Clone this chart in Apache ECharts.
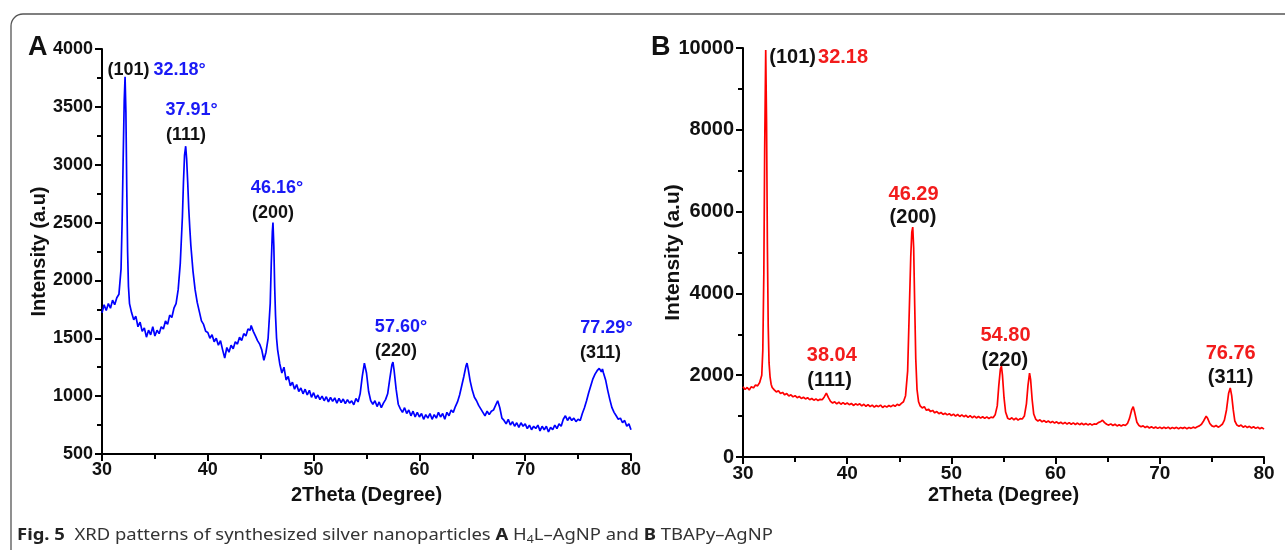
<!DOCTYPE html>
<html>
<head>
<meta charset="utf-8">
<script src="https://cdn.jsdelivr.net/npm/echarts@6/dist/echarts.min.js"></script>
<style>
  html, body { margin: 0; padding: 0; background: #fff; }
  #main { width: 1285px; height: 550px; }
</style>
</head>
<body>
<div id="main"></div>
<script>
// XRD pattern A: H4L-AgNP  [2theta, intensity]
var xrdA = [
  [30.0,1720],[30.2,1790],[30.4,1740],[30.6,1800],[30.8,1760],[31.0,1830],[31.2,1790],[31.4,1850],[31.6,1880],[31.8,2100],
  [31.9,2500],[32.0,3050],[32.1,3550],[32.18,3760],[32.26,3450],[32.34,2800],[32.42,2250],[32.5,1950],[32.6,1800],[32.8,1720],
  [33.0,1660],[33.2,1690],[33.4,1600],[33.6,1640],[33.8,1560],[34.0,1590],[34.2,1510],[34.4,1570],[34.6,1530],[34.8,1600],
  [35.0,1520],[35.2,1570],[35.4,1540],[35.6,1600],[35.8,1580],[36.0,1650],[36.2,1620],[36.4,1700],[36.6,1680],[36.8,1760],
  [37.0,1800],[37.2,1920],[37.4,2150],[37.6,2550],[37.7,2850],[37.8,3080],[37.91,3160],[38.0,3050],[38.1,2850],[38.2,2620],
  [38.3,2450],[38.4,2300],[38.6,2080],[38.8,1920],[39.0,1810],[39.2,1730],[39.4,1650],[39.6,1620],[39.8,1560],[40.0,1550],
  [40.2,1500],[40.4,1530],[40.6,1470],[40.8,1500],[41.0,1440],[41.2,1480],[41.4,1400],[41.6,1330],[41.8,1420],[42.0,1380],
  [42.2,1440],[42.4,1410],[42.6,1470],[42.8,1450],[43.0,1510],[43.2,1480],[43.4,1540],[43.6,1520],[43.8,1580],[44.0,1570],
  [44.1,1610],[44.3,1560],[44.5,1520],[44.7,1480],[44.9,1450],[45.1,1400],[45.3,1310],[45.5,1380],[45.7,1500],[45.9,1800],
  [46.0,2150],[46.1,2420],[46.16,2500],[46.24,2300],[46.32,1950],[46.4,1700],[46.5,1500],[46.6,1400],[46.8,1280],[47.0,1200],
  [47.2,1250],[47.4,1140],[47.6,1170],[47.8,1090],[48.0,1120],[48.2,1060],[48.4,1100],[48.6,1040],[48.8,1070],[49.0,1020],
  [49.2,1060],[49.4,1010],[49.6,1050],[49.8,990],[50.0,1030],[50.2,980],[50.4,1010],[50.6,970],[50.8,1000],[51.0,960],
  [51.2,995],[51.4,950],[51.6,990],[51.8,955],[52.0,985],[52.2,940],[52.4,980],[52.6,945],[52.8,975],[53.0,935],
  [53.2,970],[53.4,940],[53.6,960],[53.8,925],[54.0,980],[54.2,950],[54.4,1020],[54.6,1170],[54.8,1285],[55.0,1200],
  [55.2,1040],[55.4,960],[55.6,930],[55.8,960],[56.0,910],[56.2,950],[56.4,900],[56.6,940],[56.8,970],[57.0,1020],
  [57.2,1150],[57.4,1270],[57.5,1295],[57.6,1230],[57.8,1060],[58.0,930],[58.2,890],[58.4,860],[58.6,900],[58.8,850],
  [59.0,880],[59.2,830],[59.4,870],[59.6,820],[59.8,860],[60.0,820],[60.2,850],[60.4,800],[60.6,840],[60.8,810],
  [61.0,850],[61.2,800],[61.4,840],[61.6,810],[61.8,860],[62.0,820],[62.2,850],[62.4,800],[62.6,860],[62.8,830],
  [63.0,880],[63.2,860],[63.4,910],[63.6,950],[63.8,1010],[64.0,1090],[64.2,1170],[64.4,1260],[64.5,1285],[64.6,1240],
  [64.8,1130],[65.0,1050],[65.2,990],[65.4,960],[65.6,920],[65.8,890],[66.0,860],[66.2,830],[66.4,870],[66.6,840],
  [66.8,870],[67.0,880],[67.2,920],[67.4,960],[67.6,900],[67.8,810],[68.0,790],[68.2,760],[68.4,800],[68.6,750],
  [68.8,780],[69.0,740],[69.2,770],[69.4,730],[69.6,770],[69.8,740],[70.0,760],[70.2,720],[70.4,750],[70.6,710],
  [70.8,740],[71.0,720],[71.2,750],[71.4,700],[71.6,740],[71.8,710],[72.0,740],[72.2,690],[72.4,730],[72.6,710],
  [72.8,750],[73.0,720],[73.2,760],[73.4,740],[73.6,800],[73.8,830],[74.0,790],[74.2,820],[74.4,790],[74.6,810],
  [74.8,780],[75.0,800],[75.2,790],[75.4,850],[75.6,900],[75.8,960],[76.0,1030],[76.2,1090],[76.4,1150],[76.6,1190],
  [76.8,1220],[77.0,1240],[77.2,1210],[77.3,1235],[77.4,1200],[77.6,1140],[77.8,1050],[78.0,970],[78.2,900],[78.4,860],
  [78.6,830],[78.8,800],[79.0,810],[79.2,770],[79.4,790],[79.6,740],[79.8,760],[80.0,710]
];

// XRD pattern B: TBAPy-AgNP
var xrdB = [
  [30.0,1720],[30.2,1650],[30.4,1700],[30.6,1640],[30.8,1720],[31.0,1690],[31.2,1760],[31.4,1740],[31.6,1820],[31.8,2000],
  [31.9,2600],[32.0,4500],[32.08,7500],[32.18,9950],[32.26,8200],[32.34,5200],[32.42,3200],[32.5,2300],[32.6,1950],[32.7,1780],
  [32.8,1700],[33.0,1640],[33.2,1590],[33.4,1620],[33.6,1550],[33.8,1580],[34.0,1520],[34.2,1550],[34.4,1490],[34.6,1520],
  [34.8,1470],[35.0,1500],[35.2,1450],[35.4,1480],[35.6,1430],[35.8,1460],[36.0,1420],[36.2,1450],[36.4,1400],[36.6,1430],
  [36.8,1390],[37.0,1420],[37.2,1380],[37.4,1410],[37.6,1400],[37.8,1470],[38.0,1560],[38.1,1540],[38.2,1450],[38.4,1360],
  [38.6,1320],[38.8,1350],[39.0,1300],[39.2,1340],[39.4,1290],[39.6,1330],[39.8,1290],[40.0,1320],[40.2,1280],[40.4,1310],
  [40.6,1260],[40.8,1300],[41.0,1270],[41.2,1300],[41.4,1250],[41.6,1290],[41.8,1240],[42.0,1280],[42.2,1230],[42.4,1270],
  [42.6,1220],[42.8,1260],[43.0,1230],[43.2,1270],[43.4,1210],[43.6,1250],[43.8,1220],[44.0,1260],[44.2,1230],[44.4,1270],
  [44.6,1240],[44.8,1290],[45.0,1260],[45.2,1310],[45.4,1350],[45.6,1500],[45.8,2100],[45.95,3500],[46.1,4900],[46.2,5500],
  [46.29,5620],[46.38,5100],[46.48,3700],[46.58,2400],[46.7,1650],[46.85,1350],[47.0,1250],[47.2,1200],[47.4,1230],[47.6,1140],
  [47.8,1170],[48.0,1110],[48.2,1140],[48.4,1080],[48.6,1110],[48.8,1060],[49.0,1090],[49.2,1040],[49.4,1070],[49.6,1030],
  [49.8,1060],[50.0,1010],[50.2,1050],[50.4,1000],[50.6,1040],[50.8,990],[51.0,1030],[51.2,985],[51.4,1020],[51.6,970],
  [51.8,1010],[52.0,960],[52.2,1000],[52.4,955],[52.6,990],[52.8,950],[53.0,985],[53.2,945],[53.4,980],[53.6,940],
  [53.8,975],[54.0,960],[54.2,1030],[54.4,1250],[54.55,1750],[54.7,2150],[54.8,2220],[54.9,2000],[55.05,1450],[55.2,1100],
  [55.4,950],[55.6,920],[55.8,960],[56.0,910],[56.2,950],[56.4,900],[56.6,940],[56.8,930],[57.0,1000],[57.2,1300],
  [57.35,1750],[57.5,2050],[57.6,1900],[57.75,1400],[57.9,1050],[58.1,920],[58.3,880],[58.5,910],[58.7,860],[58.9,890],
  [59.1,850],[59.3,880],[59.5,840],[59.7,870],[59.9,830],[60.1,860],[60.3,820],[60.5,850],[60.7,810],[60.9,845],
  [61.1,805],[61.3,840],[61.5,800],[61.7,835],[61.9,795],[62.1,830],[62.3,790],[62.5,825],[62.7,790],[62.9,820],
  [63.1,785],[63.3,815],[63.5,780],[63.7,810],[63.9,800],[64.1,840],[64.3,860],[64.5,900],[64.7,840],[64.9,800],
  [65.1,780],[65.3,810],[65.5,770],[65.7,800],[65.9,760],[66.1,790],[66.3,760],[66.5,790],[66.7,770],[66.9,820],
  [67.1,950],[67.3,1150],[67.45,1230],[67.6,1080],[67.8,850],[68.0,770],[68.2,740],[68.4,760],[68.6,720],[68.8,750],
  [69.0,710],[69.2,740],[69.4,705],[69.6,735],[69.8,700],[70.0,730],[70.2,695],[70.4,725],[70.6,700],[70.8,730],
  [71.0,690],[71.2,720],[71.4,695],[71.6,725],[71.8,690],[72.0,720],[72.2,700],[72.4,725],[72.6,690],[72.8,720],
  [73.0,700],[73.2,730],[73.4,710],[73.6,740],[73.8,760],[74.0,800],[74.2,880],[74.45,1000],[74.6,940],[74.8,820],
  [75.0,760],[75.2,740],[75.4,770],[75.6,730],[75.8,760],[76.0,800],[76.2,900],[76.4,1150],[76.6,1550],[76.76,1690],
  [76.9,1500],[77.05,1150],[77.2,880],[77.4,780],[77.6,750],[77.8,780],[78.0,730],[78.2,760],[78.4,720],[78.6,750],
  [78.8,710],[79.0,740],[79.2,700],[79.4,730],[79.6,690],[79.8,720],[80.0,680]
];

// peak annotations [2theta, intensity, text]
var angleTagsA = [[37.33,3819,'32.18°'],[38.46,3473,'37.91°'],[46.54,2799,'46.16°'],[58.26,1598,'57.60°'],[77.68,1589,'77.29°']];
var hklTagsA = [[32.5,3819,'(101)'],[37.94,3257,'(111)'],[46.16,2583,'(200)'],[57.79,1390,'(220)'],[77.12,1373,'(311)']];
var angleTagsB = [[39.6,9780,'32.18'],[46.37,6430,'46.29'],[38.52,2494,'38.04'],[55.19,2983,'54.80'],[76.8,2543,'76.76']];
var hklTagsB = [[34.76,9780,'(101)'],[46.31,5868,'(200)'],[38.31,1883,'(111)'],[55.13,2372,'(220)'],[76.8,1956,'(311)']];

var xTicks = [30, 80, 10];
var yTicksA = [500, 4000, 500];
var yTicksB = [0, 10000, 2000];

var FONT = '"Liberation Sans", Arial, sans-serif';

function xAxisCfg(idx, gap, fs) {
    return {
        type: 'value', gridIndex: idx,
        min: xTicks[0], max: xTicks[1], interval: xTicks[2],
        name: '2Theta (Degree)', nameLocation: 'middle', nameGap: gap, nameMoveOverlap: false,
        nameTextStyle: {fontFamily: FONT, fontWeight: 'bold', fontSize: 20, color: '#111'},
        axisLine: {lineStyle: {color: '#000', width: 2}},
        axisTick: {length: 7, lineStyle: {color: '#000', width: 2}},
        minorTick: {show: true, splitNumber: 2, length: 5, lineStyle: {color: '#000', width: 2}},
        axisLabel: {fontFamily: FONT, fontWeight: 'bold', fontSize: fs, color: '#111', margin: 7},
        splitLine: {show: false}
    };
}

function yAxisCfg(idx, ticks, gap, fs, nfs) {
    return {
        type: 'value', gridIndex: idx,
        min: ticks[0], max: ticks[1], interval: ticks[2],
        name: 'Intensity (a.u)', nameLocation: 'middle', nameGap: gap, nameRotate: 90, nameMoveOverlap: false,
        nameTextStyle: {fontFamily: FONT, fontWeight: 'bold', fontSize: nfs, color: '#111'},
        axisLine: {show: true, lineStyle: {color: '#000', width: 2}},
        axisTick: {show: true, length: 7, lineStyle: {color: '#000', width: 2}},
        minorTick: {show: true, splitNumber: 2, length: 5, lineStyle: {color: '#000', width: 2}},
        axisLabel: {
            fontFamily: FONT, fontWeight: 'bold', fontSize: fs, color: '#111', margin: 9,
            formatter: function (v) { return String(v); }
        },
        splitLine: {show: false}
    };
}

function tagSeries(idx, data, color, fs) {
    return {
        type: 'scatter', xAxisIndex: idx, yAxisIndex: idx,
        data: data, symbolSize: 0, silent: true, z: 10,
        itemStyle: {opacity: 1},
        label: {
            show: true, position: 'inside', opacity: 1,
            formatter: function (p) { return p.data[2]; },
            fontFamily: FONT, fontWeight: 'bold', fontSize: fs, color: color,
            textBorderWidth: 0
        }
    };
}

var option = {
    backgroundColor: '#fff',
    animation: false,
    grid: [
        {left: 102, top: 49, width: 529, height: 405},
        {left: 743, top: 48, width: 521, height: 409}
    ],
    xAxis: [xAxisCfg(0, 31, 18), xAxisCfg(1, 28, 19)],
    yAxis: [yAxisCfg(0, yTicksA, 53, 18, 20), yAxisCfg(1, yTicksB, 59, 20, 21)],
    series: [
        {
            type: 'line', xAxisIndex: 0, yAxisIndex: 0, data: xrdA,
            showSymbol: false, silent: true,
            lineStyle: {color: '#0000ff', width: 1.7}
        },
        {
            type: 'line', xAxisIndex: 1, yAxisIndex: 1, data: xrdB,
            showSymbol: false, silent: true,
            lineStyle: {color: '#ff0000', width: 1.7}
        },
        tagSeries(0, angleTagsA, '#1a1af5', 18),
        tagSeries(0, hklTagsA, '#111', 18),
        tagSeries(1, angleTagsB, '#f21c1c', 20),
        tagSeries(1, hklTagsB, '#111', 20)
    ],
    graphic: [
        {
            type: 'rect', z: -1,
            shape: {x: 11, y: 14, width: 1300, height: 570, r: 12},
            style: {fill: 'none', stroke: '#555', lineWidth: 1.3}
        },
        {
            type: 'text', left: 28, top: 34,
            style: {text: 'A', font: 'bold 27px ' + FONT, fill: '#111'}
        },
        {
            type: 'text', left: 651, top: 34,
            style: {text: 'B', font: 'bold 27px ' + FONT, fill: '#111'}
        },
        {
            type: 'text', x: 17, y: 525, scaleX: 1.118,
            style: {
                text: '{b|Fig. 5}  XRD patterns of synthesized silver nanoparticles {b|A} H{s|4}L–AgNP and {b|B} TBAPy–AgNP',
                font: '16.5px "Noto Sans", sans-serif',
                fill: '#333',
                rich: {
                    b: {fontWeight: 'bold', fontSize: 16.5, fontFamily: '"Noto Sans", sans-serif', fill: '#222'},
                    s: {fontSize: 11, fontFamily: '"Noto Sans", sans-serif', fill: '#333', padding: [9, 0, 0, 0]}
                }
            }
        }
    ]
};

var myChart = echarts.init(document.getElementById('main'));
myChart.setOption(option);
</script>
</body>
</html>
